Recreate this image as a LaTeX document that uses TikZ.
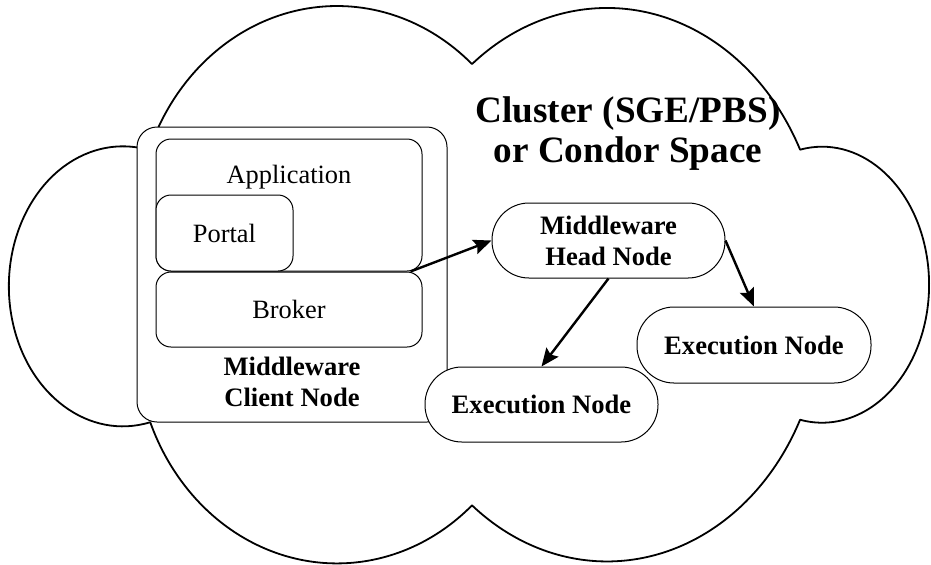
\documentclass[tikz,border=0pt]{standalone}
\usepackage{fontspec}
\setmainfont{Liberation Serif}
\usetikzlibrary{positioning,arrows.meta}

\tikzset{
	box/.style={draw=black,line width=0.5pt,fill=white,rounded corners=7.5pt,inner sep=0pt},
	txt/.style={font=\fontsize{13.2}{15.5}\selectfont,inner sep=0pt},
	btxt/.style={font=\bfseries\fontsize{13.3}{15.5}\selectfont,align=center,inner sep=0pt},
	pill/.style={draw=black,line width=0.5pt,fill=white,rounded corners=18.5pt,minimum width=116.5pt,minimum height=37.5pt,btxt},
	link/.style={line width=1.2pt,-{Stealth[length=9pt,width=7.5pt,inset=1.5pt]}},
	cloud/.style={line width=0.9pt,line join=round}
}

\begin{document}
\begin{tikzpicture}[x=0.5pt,y=-0.5pt]
		\fill[white] (0,0) rectangle (931,564);
		\useasboundingbox (0,0) rectangle (931,564);
		
		\draw[cloud] (150.25,147.18)
			arc[start angle=-158.3,end angle=-47.8,x radius=201,y radius=224]
			arc[start angle=-128.9,end angle=-26.1,x radius=215,y radius=253]
			arc[start angle=-101.87,end angle=101.87,x radius=107,y radius=138]
			arc[start angle=26.1,end angle=128.9,x radius=215,y radius=253]
			arc[start angle=47.8,end angle=158.3,x radius=201,y radius=224]
			arc[start angle=76.1,end angle=283.9,x radius=114,y radius=140]
			-- cycle;
		
		\node[btxt,font=\bfseries\fontsize{18.6}{20}\selectfont] (space) at (628,134) {Cluster (SGE/PBS)\\or Condor Space};
		
		\node[box,minimum width=155pt,minimum height=147.5pt,rounded corners=10pt] (client) at (292,274.5) {};
		\node[btxt,above=7.5pt of client.south] (clientname) {Middleware\\Client Node};
		
		\node[box,minimum width=133pt,minimum height=66pt] (app) at (289,205) {};
		\node[txt,below=13pt of app.north] (appname) {Application};
		\node[box,txt,minimum width=68.5pt,minimum height=38pt] (portal) at (224.5,233) {Portal};
		\node[box,txt,minimum width=133pt,minimum height=37.5pt] (broker) at (289,309.5) {Broker};
		
		\node[pill] (head) at (608.5,240.5) {Middleware\\Head Node};
		\node[pill,minimum width=117pt,minimum height=38pt] (exec1) at (754,345) {Execution Node};
		\node[pill] (exec2) at (541.5,404.5) {Execution Node};
		
		\draw[link] ([xshift=-6pt]broker.north east) -- (head.west);
		\draw[link] (head.east) -- (exec1.north);
		\draw[link] (head.south) -- (exec2.north);
	\end{tikzpicture}
\end{document}
